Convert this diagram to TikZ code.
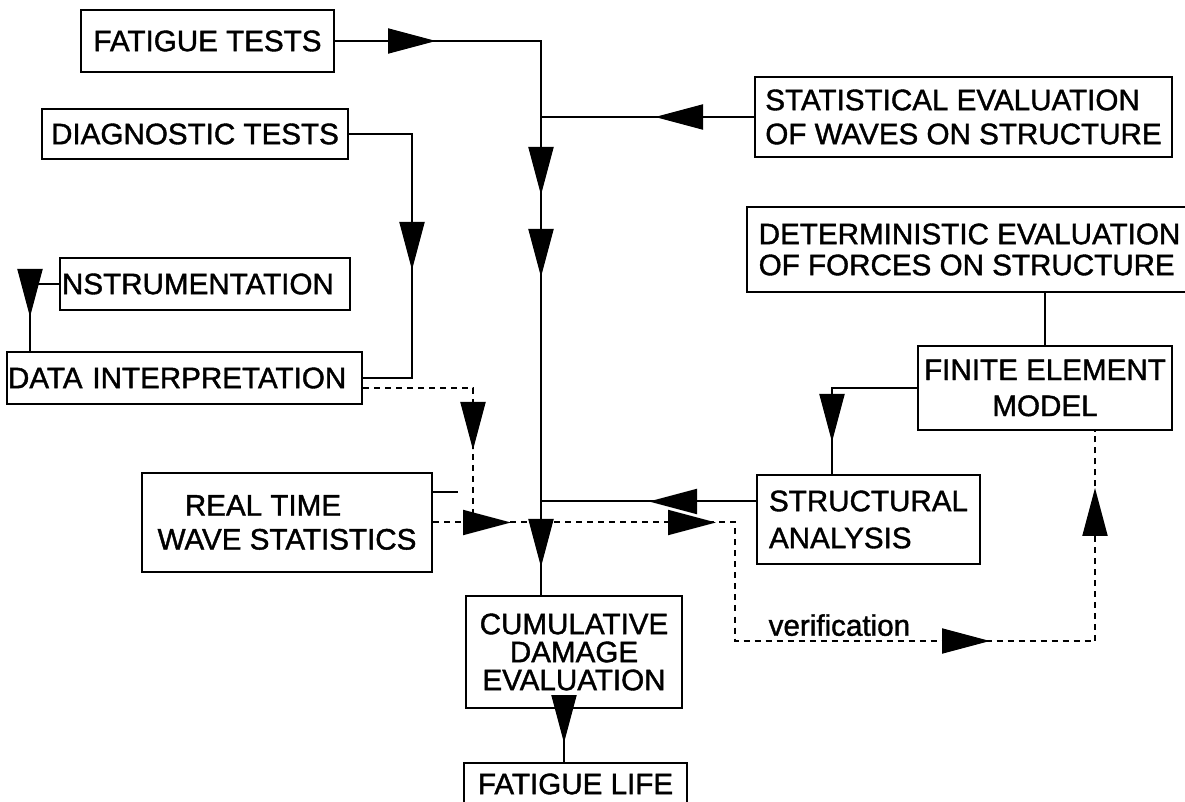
\documentclass[tikz,border=0pt]{standalone}
\usepackage{fontspec}
\setmainfont{Liberation Sans}[FakeBold=1.3]
\usetikzlibrary{calc,positioning,arrows.meta,decorations.markings}
\tikzset{
  wire/.style={line width=1pt},
  dwire/.style={line width=1pt, dash pattern=on 3pt off 2.5pt},
  box/.style={draw, line width=1pt, inner sep=2pt, align=center, font=\fontsize{14.8}{17}\selectfont},
  lbox/.style={box, align=left},
  bigtip/.tip={Triangle[length=24pt,width=12.5pt]},
  tip at/.style={postaction={decorate,decoration={markings,mark=at position #1 with {\arrow{bigtip}}}}},
  lbl/.style={font=\fontsize{14.8}{17}\selectfont, inner sep=2pt}
}
\begin{document}
\begin{tikzpicture}[x=0.5pt,y=-0.5pt]
  \useasboundingbox (0,0) rectangle (1185,802);
  % boxes
  \node[box, minimum width=126.5pt, minimum height=31pt] (fat) at (207.5,41) {FATIGUE TESTS};
  \node[box, minimum width=153pt, minimum height=25pt] (diag) at (195,134) {DIAGNOSTIC TESTS};
  \node[lbox, inner xsep=1pt, text width=143pt, minimum height=26pt] (instr) at (205,284) {NSTRUMENTATION};
  \node[lbox, inner xsep=0.5pt, text width=176.5pt, minimum height=26pt] (data) at (184.5,378) {DATA INTERPRETATION};
  \node[box, minimum width=145pt, minimum height=49.5pt] (rt) at (287,522.5) {REAL TIME\hspace*{24pt}\\WAVE STATISTICS};
  \node[box, minimum width=108pt, minimum height=56pt, font=\fontsize{14.8}{14}\selectfont] (cum) at (574,652) {CUMULATIVE\\DAMAGE\\EVALUATION};
  \node[box, minimum width=111.5pt, minimum height=21pt] (life) at (575.5,784) {FATIGUE LIFE};
  \node[lbox, minimum width=208.5pt, minimum height=40pt] (stat) at (963.5,117) {STATISTICAL EVALUATION\\OF WAVES ON STRUCTURE};
  \node[lbox, minimum width=222.5pt, minimum height=42.5pt, font=\fontsize{14.8}{15.5}\selectfont] (det) at (969.5,249.5) {DETERMINISTIC EVALUATION\\OF FORCES ON STRUCTURE};
  \node[box, minimum width=127pt, minimum height=42pt, font=\fontsize{14.8}{18}\selectfont] (fem) at (1045,388) {FINITE ELEMENT\\MODEL};
  \node[lbox, minimum width=111.5pt, minimum height=44.5pt, font=\fontsize{14.8}{18.5}\selectfont] (sa) at (868.5,519.5) {STRUCTURAL\\ANALYSIS};

  % junctions
  \coordinate (trunk) at (541,41);
  \coordinate (mix) at (473,524);
  \coordinate (stub) at (458,492);
  \coordinate (loop) at (735,641);
  \coordinate (femin) at ($(fem.south)+(50,0)$);

  % solid connectors
  \draw[wire, tip at=50.5pt, tip at=180pt, tip at=221pt, tip at=366pt] (fat.east) -- (trunk) -- (trunk |- cum.north);
  \draw[wire, tip at=49.5pt] (stat.west) -- (stat.west -| trunk);
  \draw[wire, tip at=99.5pt] (diag.east) -| ($(data.east)+(49,0)$) -- (data.east);
  \draw[wire, tip at=31pt] (instr.west) -| ($(data.north west)+(24,0)$);
  \draw[wire] (stub -| rt.east) -- (stub);
  \draw[wire, tip at=53.5pt] ($(sa.west)+(0,-18)$) coordinate (sain) -- (sain -| trunk);
  \draw[wire, tip at=69.5pt] (fem.west) -| ($(sa.north)+(-36.5,0)$);
  \draw[wire] (det.south -| fem.north) -- (fem.north);
  \draw[wire, tip at=17pt] ($(cum.south)+(-10,0)$) -- ($(life.north)+(-11.5,0)$);

  % dashed connectors
  \draw[dwire, tip at=86pt] ($(data.east)+(0,10)$) -| (mix);
  \draw[dwire, tip at=39pt, tip at=141.5pt, tip at=337.75pt, tip at=466.75pt]
    (rt.east) -| (loop) -- node[lbl, above, pos=0.29] {verification} (loop -| femin) -- (femin);
\end{tikzpicture}
\end{document}
